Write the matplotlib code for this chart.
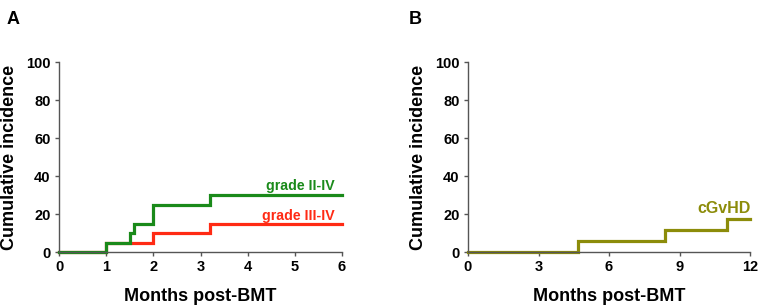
import matplotlib
matplotlib.use("Agg")
import matplotlib.pyplot as plt

plt.rcParams['font.family'] = ['Liberation Sans', 'DejaVu Sans']
plt.rcParams['font.weight'] = 'bold'

# Panel A data (step times in months, cumulative incidence %)
a_grade2_t = [0, 1.0, 1.5, 1.6, 2.0, 3.2, 6.0]
a_grade2_y = [0, 5, 10, 15, 25, 30, 30]
a_grade3_t = [0, 1.0, 2.0, 3.2, 6.0]
a_grade3_y = [0, 5, 10, 15, 15]
a_xticks = [0, 1, 2, 3, 4, 5, 6]

# Panel B data
b_cgvhd_t = [0, 4.7, 8.4, 11.0, 12.0]
b_cgvhd_y = [0, 5.9, 11.8, 17.6, 17.6]
b_xticks = [0, 3, 6, 9, 12]

yticks = [0, 20, 40, 60, 80, 100]

green = '#1a8a1a'
red = '#ff2a14'
olive = '#8c8c0a'

fig = plt.figure(figsize=(7.61, 3.05), dpi=100)
axA = fig.add_axes([59/761, 1-252/305, (342-59)/761, (252-62)/305])
axB = fig.add_axes([468/761, 1-252/305, (750-468)/761, (252-62)/305])

axA.step(a_grade3_t, a_grade3_y, where='post', color=red, lw=2.3, solid_joinstyle='miter', clip_on=False)
axA.step(a_grade2_t, a_grade2_y, where='post', color=green, lw=2.3, solid_joinstyle='miter', clip_on=False)
axA.text(5.84, 32.5, 'grade II-IV', color=green, ha='right', va='baseline', fontsize=10.2, fontweight='bold')
axA.text(5.84, 16.8, 'grade III-IV', color=red, ha='right', va='baseline', fontsize=10.2, fontweight='bold')
axA.set_xlim(0, 6)
axA.set_xticks(a_xticks)

axB.step(b_cgvhd_t, b_cgvhd_y, where='post', color=olive, lw=2.3, solid_joinstyle='miter', clip_on=False)
axB.text(12.05, 20.5, 'cGvHD', color=olive, ha='right', va='baseline', fontsize=11.5, fontweight='bold')
axB.set_xlim(0, 12)
axB.set_xticks(b_xticks)

for ax, lab, lx in [(axA, 'A', 7/761), (axB, 'B', 409/761)]:
    ax.set_ylim(0, 100)
    ax.set_yticks(yticks)
    for s in ['top', 'right']:
        ax.spines[s].set_visible(False)
    for s in ['left', 'bottom']:
        ax.spines[s].set_color('#555555')
        ax.spines[s].set_linewidth(1.0)
    ax.tick_params(direction='out', length=3, width=1, color='#555555', labelsize=10.5, pad=3)
    for t in ax.get_xticklabels() + ax.get_yticklabels():
        t.set_fontweight('bold')
    ax.set_xlabel('Months post-BMT', fontsize=13, fontweight='bold', labelpad=10)
    ax.set_ylabel('Cumulative incidence', fontsize=13, fontweight='bold', labelpad=6)
    fig.text(lx, 1-19/305, lab, fontsize=13, fontweight='bold', va='center', ha='left')

fig.savefig('out.png', dpi=100)
